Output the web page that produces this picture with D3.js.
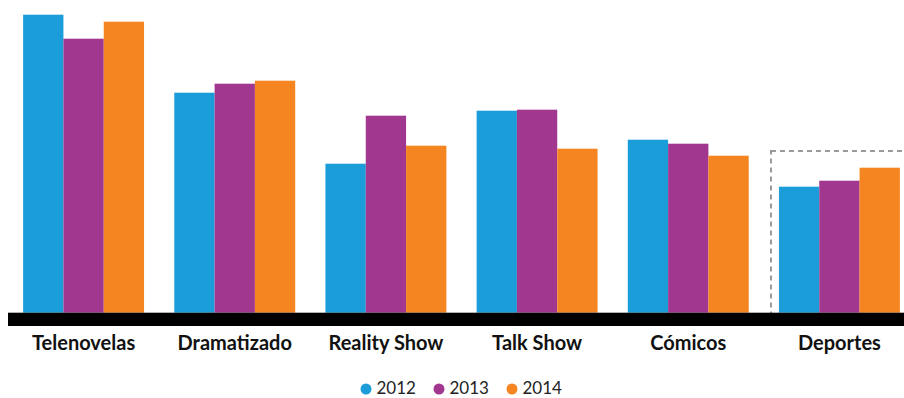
<!DOCTYPE html>
<html>
<head>
<meta charset="utf-8">
<script src="https://cdn.jsdelivr.net/npm/d3@7"></script>
<style>
  body { margin: 0; background: #fff; }
  svg { display: block; }
  .cat-label { font-family: Lato, "Open Sans", sans-serif; font-weight: bold; font-size: 20px; fill: #111; }
  .legend-label { font-family: Lato, "Open Sans", sans-serif; font-size: 17px; fill: #222; }
</style>
</head>
<body>
<script>
// data (no y axis shown, so units are relative)
var categories = ["Telenovelas", "Dramatizado", "Reality Show", "Talk Show", "Cómicos", "Deportes"];
var years = ["2012", "2013", "2014"];
var values2012 = [298, 220, 149, 202, 173, 126];
var values2013 = [274, 229, 197, 203, 169, 132];
var values2014 = [291, 232, 167, 164, 157, 145];
var colors = ["#1b9dd9", "#a1378f", "#f48521"];
var highlighted = "Deportes";

var series = [values2012, values2013, values2014];
var data = categories.map(function(c, i) {
  return { cat: c, vals: years.map(function(y, j) { return { year: y, value: series[j][i] }; }) };
});

var width = 904, height = 398;
var baseY = 312.7;

var svg = d3.select("body").append("svg")
  .attr("width", width)
  .attr("height", height);

var xScale = d3.scaleBand()
  .domain(categories)
  .range([8, 915])
  .paddingInner(0.2)
  .paddingOuter(0.1);

var xSub = d3.scaleBand()
  .domain(years)
  .range([0, xScale.bandwidth()]);

var yScale = d3.scaleLinear()
  .domain([0, 300])
  .range([baseY, baseY - 300]);

var color = d3.scaleOrdinal().domain(years).range(colors);

// dashed box around the highlighted group
var hx = xScale(highlighted) - 8;
svg.append("rect")
  .attr("x", hx)
  .attr("y", 151)
  .attr("width", width - hx + 20)
  .attr("height", baseY - 151 + 2)
  .attr("fill", "none")
  .attr("stroke", "#9a9a9a")
  .attr("stroke-width", 2)
  .attr("stroke-dasharray", "5,4");

var groups = svg.append("g")
  .selectAll("g")
  .data(data)
  .enter()
  .append("g")
  .attr("transform", function(d) { return "translate(" + xScale(d.cat) + ",0)"; });

groups.selectAll("rect")
  .data(function(d) { return d.vals; })
  .enter()
  .append("rect")
  .attr("x", function(d) { return xSub(d.year); })
  .attr("y", function(d) { return yScale(d.value); })
  .attr("width", xSub.bandwidth())
  .attr("height", function(d) { return baseY - yScale(d.value); })
  .style("fill", function(d) { return color(d.year); });

// thick black baseline
svg.append("rect")
  .attr("x", 8)
  .attr("y", baseY)
  .attr("width", width)
  .attr("height", 13.3)
  .attr("fill", "#000");

var xAxis = svg.append("g")
  .attr("transform", "translate(0," + (baseY + 13) + ")")
  .call(d3.axisBottom(xScale).tickSize(0).tickPadding(0));
xAxis.select(".domain").remove();
xAxis.selectAll("text")
  .attr("class", "cat-label")
  .attr("dy", null)
  .attr("y", 24.5);

// legend
var legend = svg.append("g")
  .selectAll("g")
  .data(years)
  .enter()
  .append("g")
  .attr("transform", function(d, i) { return "translate(" + (366 + i * 73) + ",389)"; });

legend.append("circle")
  .attr("r", 5.5)
  .attr("fill", function(d) { return color(d); });

legend.append("text")
  .attr("class", "legend-label")
  .attr("x", 10.5)
  .attr("y", 5)
  .text(function(d) { return d; });
</script>
</body>
</html>
